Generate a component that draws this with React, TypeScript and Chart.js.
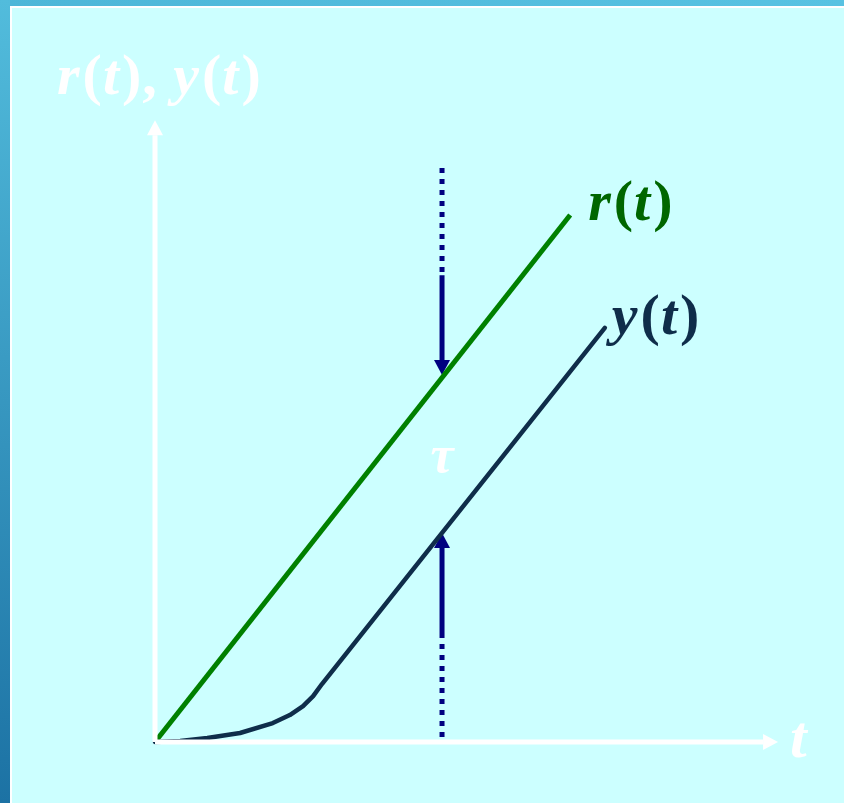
import React, { useEffect, useRef } from "react";
import { Chart, registerables } from "chart.js";

Chart.register(...registerables);

// ---- data (abstract time / response units) ----
const rX = [0, 6.59];
const rY = [0, 8.5];

const yX = [0, 0.4, 0.83, 1.35, 1.87, 2.14, 2.35, 2.51, 2.65, 7.14];
const yY = [0, 0.016, 0.065, 0.145, 0.306, 0.435, 0.58, 0.74, 0.935, 6.68];

const tauX = 4.556;
const tauTopDotY = [9.26, 7.53];
const tauTopArrowY = [7.53, 5.92];
const tauBotArrowY = [1.76, 3.37];
const tauBotDotY = [1.76, 0];
const tauLabelY = 4.35;

const xAxisX = [0, 9.89];
const yAxisY = [0, 10.03];

const yAxisTitle: [string, boolean][] = [["r", true], ["(", false], ["t", true], ")", ",", " ", ["y", true], ["(", false], ["t", true], [")", false]].map(
  (s: any) => (Array.isArray(s) ? s : [s, false])
) as [string, boolean][];
const xAxisTitle: [string, boolean][] = [["t", true]];
const rLabel: [string, boolean][] = [["r", true], ["(", false], ["t", true], [")", false]];
const yLabel: [string, boolean][] = [["y", true], ["(", false], ["t", true], [")", false]];
const tauLabel = "τ";

const pts = (xs: number[], ys: number[]) => xs.map((x, i) => ({ x, y: ys[i] }));
const vert = (x: number, ys: number[]) => ys.map((y) => ({ x, y }));

const FAMILY = '"Liberation Serif", "Times New Roman", serif';

function drawRich(ctx: CanvasRenderingContext2D, segs: [string, boolean][], x: number, y: number, size: number, color: string) {
  ctx.save();
  ctx.fillStyle = color;
  ctx.textBaseline = "alphabetic";
  ctx.textAlign = "left";
  let cx = x;
  for (const [t, it] of segs) {
    ctx.font = `${it ? "italic " : ""}bold ${size}px ${FAMILY}`;
    ctx.fillText(t, cx, y);
    cx += ctx.measureText(t).width + (it ? 3 : 1);
  }
  ctx.restore();
}

function headGeom(chart: any, index: number) {
  const meta = chart.getDatasetMeta(index);
  const n = meta.data.length;
  const a = meta.data[n - 2];
  const b = meta.data[n - 1];
  const dx = b.x - a.x;
  const dy = b.y - a.y;
  const len = Math.hypot(dx, dy) || 1;
  const ux = dx / len;
  const uy = dy / len;
  const px = -uy;
  const py = ux;
  return { tipX: b.x, tipY: b.y, ux, uy, px, py };
}

const HEAD_LEN = 15;
const HEAD_HW = 8;

const arrowPlugin = {
  id: "arrowHeads",
  beforeDatasetDraw(chart: any, args: any) {
    const ds = chart.data.datasets[args.index];
    if (!ds.arrowHead) return;
    const g = headGeom(chart, args.index);
    const ctx = chart.ctx as CanvasRenderingContext2D;
    const bx = g.tipX - g.ux * HEAD_LEN;
    const by = g.tipY - g.uy * HEAD_LEN;
    const ex = g.tipX + g.ux * 4;
    const ey = g.tipY + g.uy * 4;
    ctx.save();
    ctx.beginPath();
    ctx.rect(0, 0, chart.width, chart.height);
    ctx.moveTo(bx + g.px * HEAD_HW, by + g.py * HEAD_HW);
    ctx.lineTo(ex + g.px * HEAD_HW, ey + g.py * HEAD_HW);
    ctx.lineTo(ex - g.px * HEAD_HW, ey - g.py * HEAD_HW);
    ctx.lineTo(bx - g.px * HEAD_HW, by - g.py * HEAD_HW);
    ctx.closePath();
    ctx.clip("evenodd");
  },
  afterDatasetDraw(chart: any, args: any) {
    const ds = chart.data.datasets[args.index];
    if (!ds.arrowHead) return;
    const ctx = chart.ctx as CanvasRenderingContext2D;
    ctx.restore();
    const g = headGeom(chart, args.index);
    const bx = g.tipX - g.ux * HEAD_LEN;
    const by = g.tipY - g.uy * HEAD_LEN;
    ctx.save();
    ctx.fillStyle = ds.borderColor;
    ctx.beginPath();
    ctx.moveTo(g.tipX, g.tipY);
    ctx.lineTo(bx + g.px * HEAD_HW, by + g.py * HEAD_HW);
    ctx.lineTo(bx - g.px * HEAD_HW, by - g.py * HEAD_HW);
    ctx.closePath();
    ctx.fill();
    ctx.restore();
  },
};

const bgPlugin = {
  id: "slideBg",
  beforeDraw(chart: any) {
    const ctx = chart.ctx as CanvasRenderingContext2D;
    const w = chart.width;
    const h = chart.height;
    ctx.save();
    const gv = ctx.createLinearGradient(0, 0, 0, h);
    gv.addColorStop(0, "#52bcdc");
    gv.addColorStop(1, "#1c72a4");
    ctx.fillStyle = gv;
    ctx.fillRect(0, 0, w, h);
    const gh = ctx.createLinearGradient(0, 0, w, 0);
    gh.addColorStop(0, "#4db6d8");
    gh.addColorStop(1, "#58c2e2");
    ctx.fillStyle = gh;
    ctx.fillRect(10, 0, w - 10, 6);
    ctx.fillStyle = "#ffffff";
    ctx.fillRect(10, 6, w - 10, h - 6);
    ctx.fillStyle = "#ccffff";
    ctx.fillRect(12, 8, w - 12, h - 8);
    ctx.restore();
  },
};

const labelPlugin = {
  id: "labels",
  afterDatasetsDraw(chart: any) {
    const ctx = chart.ctx as CanvasRenderingContext2D;
    const xs = chart.scales.x;
    const ys = chart.scales.y;
    const X = (v: number) => xs.getPixelForValue(v);
    const Y = (v: number) => ys.getPixelForValue(v);
    // axis titles
    drawRich(ctx, yAxisTitle, X(0) - 98, Y(yAxisY[1]) - 26, 58, "#ffffff");
    drawRich(ctx, xAxisTitle, X(xAxisX[1]) + 12, Y(0) + 15, 60, "#ffffff");
    // series labels
    drawRich(ctx, rLabel, X(rX[rX.length - 1]) + 18, Y(rY[rY.length - 1]) + 5, 58, "#006600");
    drawRich(ctx, yLabel, X(yX[yX.length - 1]) + 7, Y(yY[yY.length - 1]) + 6, 58, "#0f2d4a");
    // tau
    ctx.save();
    ctx.fillStyle = "#ffffff";
    ctx.font = `italic bold 52px ${FAMILY}`;
    ctx.textAlign = "center";
    ctx.textBaseline = "alphabetic";
    ctx.fillText(tauLabel, X(tauX), Y(tauLabelY));
    ctx.restore();
  },
};

export default function App() {
  const ref = useRef<HTMLCanvasElement | null>(null);
  useEffect(() => {
    if (!ref.current) return;
    const navy = "#000080";
    const chart = new Chart(ref.current, {
      type: "scatter",
      data: {
        datasets: [
          { label: "xAxis", data: pts(xAxisX, [0, 0]), borderColor: "#ffffff", borderWidth: 5, arrowHead: true } as any,
          { label: "yAxis", data: vert(0, yAxisY), borderColor: "#ffffff", borderWidth: 5, arrowHead: true } as any,
          { label: "tauTopDots", data: vert(tauX, tauTopDotY), borderColor: navy, borderWidth: 5, borderDash: [5, 6] } as any,
          { label: "tauBotDots", data: vert(tauX, tauBotDotY), borderColor: navy, borderWidth: 5, borderDash: [5, 6] } as any,
          { label: "y(t)", data: pts(yX, yY), borderColor: "#0f2d4a", borderWidth: 4.5, borderJoinStyle: "round", borderCapStyle: "round" } as any,
          { label: "r(t)", data: pts(rX, rY), borderColor: "#008000", borderWidth: 5 } as any,
          { label: "tauTop", data: vert(tauX, tauTopArrowY), borderColor: navy, borderWidth: 5, arrowHead: true } as any,
          { label: "tauBot", data: vert(tauX, tauBotArrowY), borderColor: navy, borderWidth: 5, arrowHead: true } as any,
        ].map((d: any) => ({ showLine: true, pointRadius: 0, pointHoverRadius: 0, tension: 0, clip: false, ...d })),
      },
      options: {
        animation: false,
        responsive: false,
        devicePixelRatio: 1,
        events: [],
        layout: { padding: { left: 155, right: 59, top: 122, bottom: 61 } },
        scales: {
          x: { type: "linear", min: 0, max: 10, display: false },
          y: { type: "linear", min: 0, max: 10, display: false },
        },
        plugins: { legend: { display: false }, tooltip: { enabled: false } },
      },
      plugins: [bgPlugin, arrowPlugin, labelPlugin],
    } as any);
    return () => chart.destroy();
  }, []);
  return (
    <div style={{ position: "fixed", left: 0, top: 0, width: 844, height: 803 }}>
      <canvas ref={ref} width={844} height={803} style={{ display: "block" }} />
    </div>
  );
}
